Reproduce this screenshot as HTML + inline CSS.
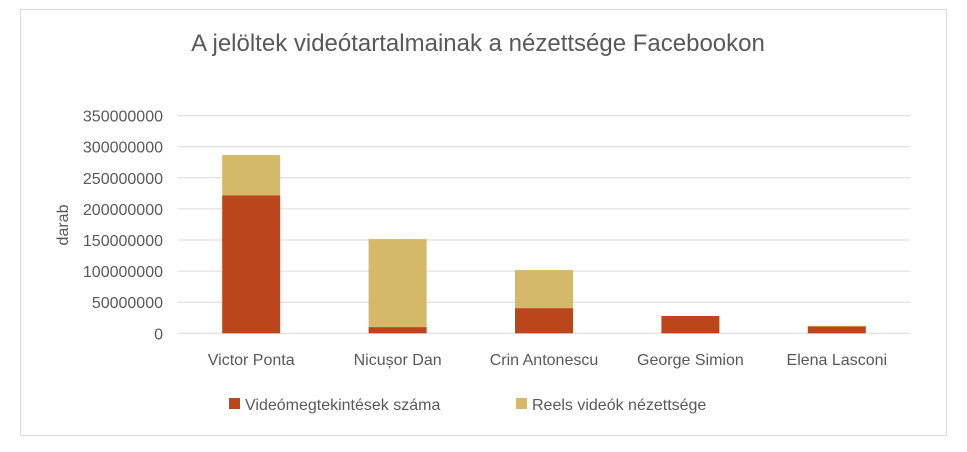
<!DOCTYPE html>
<html><head><meta charset="utf-8"><style>
body{margin:0;background:#fff;font-family:"Liberation Sans",sans-serif;}
svg text{font-family:"Liberation Sans",sans-serif;fill:#595959;}
</style></head><body>
<svg width="967" height="447">
<rect x="20.5" y="9.5" width="926" height="426" fill="#fff" stroke="#d9d9d9"/>
<text x="478" y="51" text-anchor="middle" font-size="24">A jelöltek videótartalmainak a nézettsége Facebookon</text>
<text transform="translate(68,225) rotate(-90)" text-anchor="middle" font-size="16">darab</text>
<g id="grid"></g><g id="bars"></g><g id="labels"></g>
<rect x="229" y="398" width="11" height="11" fill="#bc461c"/>
<text x="245" y="410" font-size="16">Videómegtekintések száma</text>
<rect x="516" y="398" width="11" height="11" fill="#d3b969"/>
<text x="532" y="410" font-size="16">Reels videók nézettsége</text>
</svg>
<script>
const categories=["Victor Ponta","Nicușor Dan","Crin Antonescu","George Simion","Elena Lasconi"];
const views=[222000000,10000000,40500000,27800000,11000000];
const reels=[64500000,141500000,61300000,0,1000000];
const ticks=[0,50000000,100000000,150000000,200000000,250000000,300000000,350000000];
const L=178,R=910,Y0=333.3,PX=31.1/50000000;
const y=v=>Y0-v*PX;
const bw=(R-L)/categories.length;
const ns="http://www.w3.org/2000/svg";
const g=document.getElementById('grid'),b=document.getElementById('bars'),lb=document.getElementById('labels');
function mk(tag,a,p){const e=document.createElementNS(ns,tag);for(const k in a)e.setAttribute(k,a[k]);p.appendChild(e);return e;}
ticks.forEach(t=>{
 const l=mk('line',{x1:L,x2:R,y1:y(t),y2:y(t),stroke:'#d9d9d9','stroke-width':1},g);
 
 
 const tx=mk('text',{x:163,y:y(t)+6,'text-anchor':'end','font-size':16},g);
 tx.textContent=String(t);
 
 
});
categories.forEach((c,i)=>{
 const cx=L+bw*(i+0.5),w=58;
 const r1=mk('rect',{x:cx-w/2,y:y(views[i]),width:w,height:Y0-y(views[i]),fill:'#bc461c'},b);
 
 
 const r2=mk('rect',{x:cx-w/2,y:y(views[i]+reels[i]),width:w,height:y(views[i])-y(views[i]+reels[i]),fill:'#d3b969'},b);
 
 
 const t=mk('text',{x:cx,y:365,'text-anchor':'middle','font-size':16},lb);
 t.textContent=c;
 
 
});
</script>
</body></html>
